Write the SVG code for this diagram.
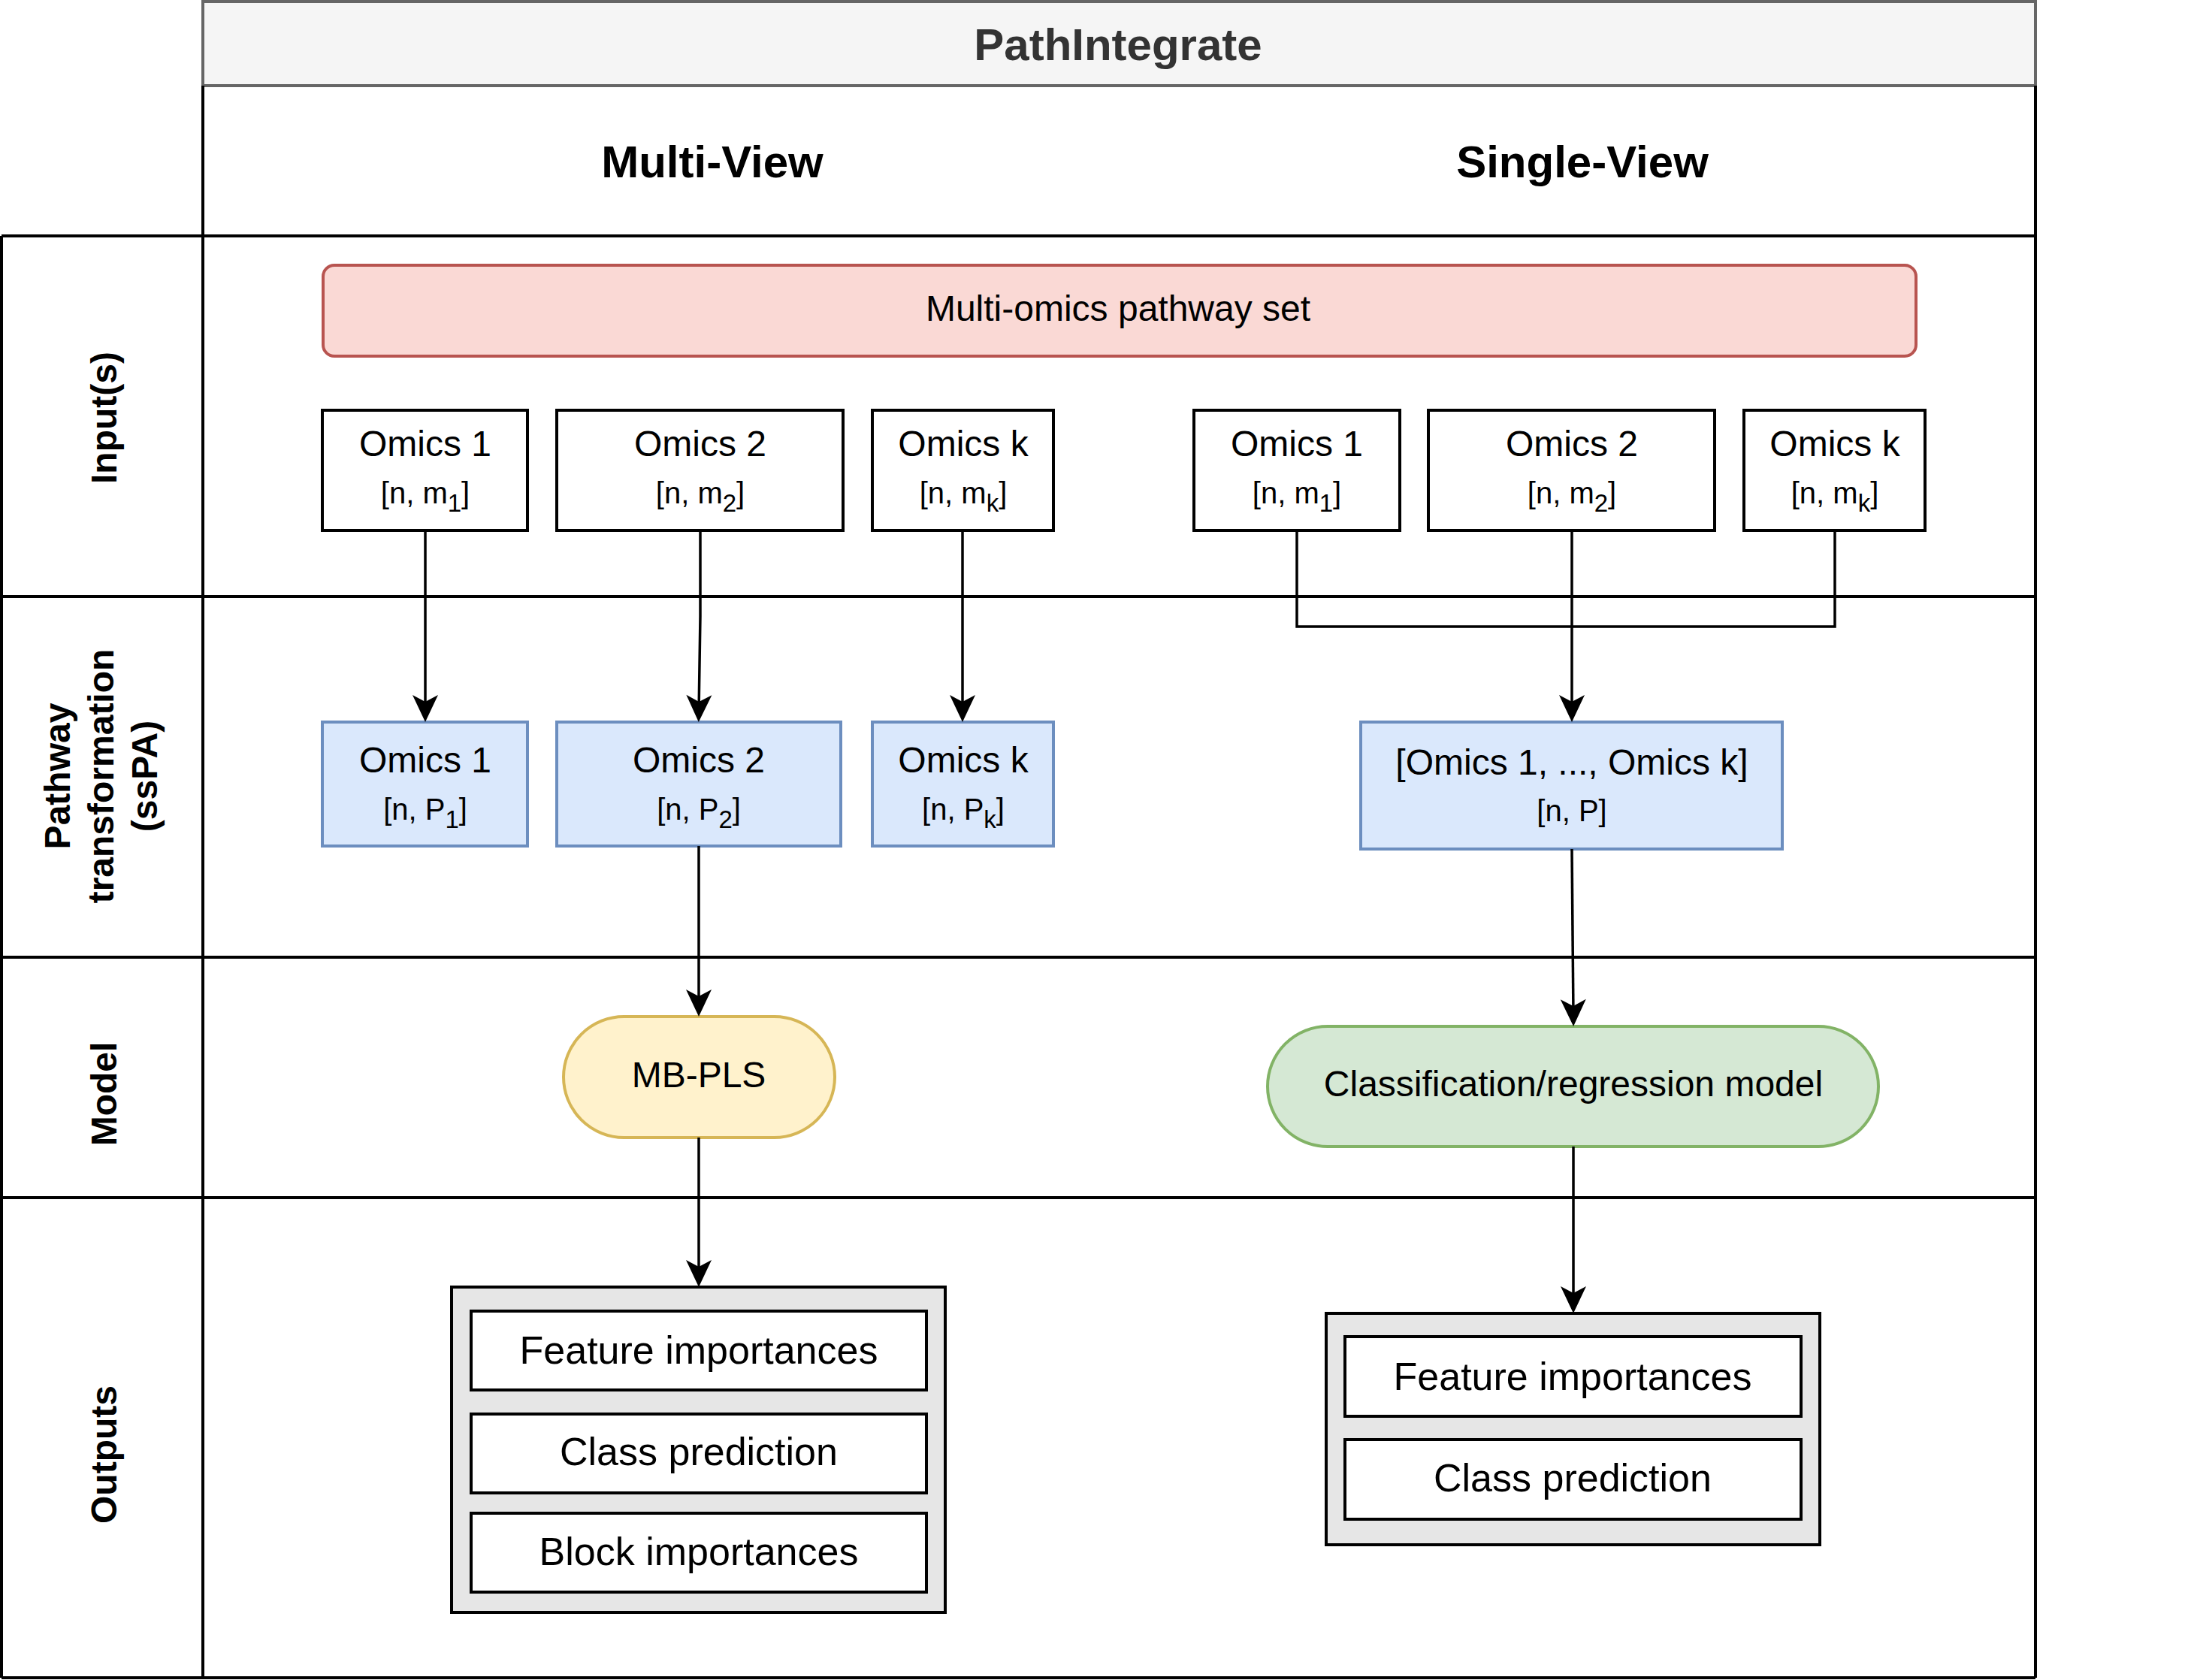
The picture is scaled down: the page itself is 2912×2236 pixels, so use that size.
<svg xmlns="http://www.w3.org/2000/svg" width="2912" height="2236" viewBox="0 0 2912 2236">
<style>
text{font-family:"Liberation Sans",Arial,sans-serif;fill:#000;text-anchor:middle}
.tbl{fill:none;stroke:#000;stroke-width:4}
.lbl{font-size:48px;font-weight:bold}
.hdr{font-size:60px;font-weight:bold}
.n{font-size:48px}
.s{font-size:40px}
.o{font-size:52px}
.box{fill:#fff;stroke:#000;stroke-width:4}
.blue{fill:#dae8fc;stroke:#6c8ebf;stroke-width:4}
.outer{fill:#e6e6e6;stroke:#000;stroke-width:4}
.edge{fill:none;stroke:#000;stroke-width:3.5}
</style>
<defs>
<marker id="arr" markerUnits="userSpaceOnUse" markerWidth="44" markerHeight="44" viewBox="-40 -22 44 44" refX="-12" refY="0" orient="auto">
<path d="M0,0 L-36,-17 L-27,0 L-36,17 Z" fill="#000"/>
</marker>
</defs>
<rect width="2912" height="2236" fill="#fff"/>
<g id="table">
<rect x="270" y="2" width="2439" height="112" fill="#f5f5f5" stroke="#666666" stroke-width="4"/>
<text x="1488" y="80" class="hdr" style="fill:#333333">PathIntegrate</text>
<path class="tbl" d="M270 114 V2233 M2709 114 V2233 M2 314 H2709 M2 794 H2709 M2 1274 H2709 M2 1594 H2709 M2 2233 H2709 M2 314 V2233"/>
<text x="948" y="236" class="hdr">Multi-View</text>
<text x="2106" y="236" class="hdr">Single-View</text>
<text class="lbl" transform="translate(155,556) rotate(-90)">Input(s)</text>
<text class="lbl" transform="translate(0,1033) rotate(-90)"><tspan x="0" y="93">Pathway</tspan><tspan x="0" y="151">transformation</tspan><tspan x="0" y="209">(ssPA)</tspan></text>
<text class="lbl" transform="translate(155,1456) rotate(-90)">Model</text>
<text class="lbl" transform="translate(155,1936) rotate(-90)">Outputs</text>
</g>
<g id="pathway-set">
<rect x="430" y="353" width="2120" height="121" rx="15" fill="#fad9d5" stroke="#b85450" stroke-width="4"/>
<text x="1488" y="427" class="n">Multi-omics pathway set</text>
</g>
<g id="mv-omics1">
<rect x="429" y="546" width="273" height="160" class="box"/>
<text x="566" y="607" class="n">Omics 1</text>
<text x="566" y="670" class="s">[n, m<tspan font-size="33" dy="11">1</tspan><tspan dy="-11">]</tspan></text>
</g>
<g id="mv-omics2">
<rect x="741" y="546" width="381" height="160" class="box"/>
<text x="932" y="607" class="n">Omics 2</text>
<text x="932" y="670" class="s">[n, m<tspan font-size="33" dy="11">2</tspan><tspan dy="-11">]</tspan></text>
</g>
<g id="mv-omicsk">
<rect x="1161" y="546" width="241" height="160" class="box"/>
<text x="1282" y="607" class="n">Omics k</text>
<text x="1282" y="670" class="s">[n, m<tspan font-size="33" dy="11">k</tspan><tspan dy="-11">]</tspan></text>
</g>
<g id="sv-omics1">
<rect x="1589" y="546" width="274" height="160" class="box"/>
<text x="1726" y="607" class="n">Omics 1</text>
<text x="1726" y="670" class="s">[n, m<tspan font-size="33" dy="11">1</tspan><tspan dy="-11">]</tspan></text>
</g>
<g id="sv-omics2">
<rect x="1901" y="546" width="381" height="160" class="box"/>
<text x="2092" y="607" class="n">Omics 2</text>
<text x="2092" y="670" class="s">[n, m<tspan font-size="33" dy="11">2</tspan><tspan dy="-11">]</tspan></text>
</g>
<g id="sv-omicsk">
<rect x="2321" y="546" width="241" height="160" class="box"/>
<text x="2442" y="607" class="n">Omics k</text>
<text x="2442" y="670" class="s">[n, m<tspan font-size="33" dy="11">k</tspan><tspan dy="-11">]</tspan></text>
</g>
<g id="mv-path1">
<rect x="429" y="961" width="273" height="165" class="blue"/>
<text x="566" y="1028" class="n">Omics 1</text>
<text x="566" y="1091" class="s">[n, P<tspan font-size="33" dy="11">1</tspan><tspan dy="-11">]</tspan></text>
</g>
<g id="mv-path2">
<rect x="741" y="961" width="378" height="165" class="blue"/>
<text x="930" y="1028" class="n">Omics 2</text>
<text x="930" y="1091" class="s">[n, P<tspan font-size="33" dy="11">2</tspan><tspan dy="-11">]</tspan></text>
</g>
<g id="mv-pathk">
<rect x="1161" y="961" width="241" height="165" class="blue"/>
<text x="1282" y="1028" class="n">Omics k</text>
<text x="1282" y="1091" class="s">[n, P<tspan font-size="33" dy="11">k</tspan><tspan dy="-11">]</tspan></text>
</g>
<g id="sv-path">
<rect x="1811" y="961" width="561" height="169" class="blue"/>
<text x="2092" y="1031" class="n">[Omics 1, ..., Omics k]</text>
<text x="2092" y="1093" class="s">[n, P]</text>
</g>
<g id="mbpls">
<rect x="750" y="1353" width="361" height="161" rx="80.5" fill="#fff2cc" stroke="#d6b656" stroke-width="4"/>
<text x="930" y="1447" class="n">MB-PLS</text>
</g>
<g id="classifier">
<rect x="1687" y="1366" width="813" height="160" rx="80" fill="#d5e8d4" stroke="#82b366" stroke-width="4"/>
<text x="2094" y="1459" class="n">Classification/regression model</text>
</g>
<g id="mv-outputs">
<rect x="601" y="1713" width="657" height="433" class="outer"/>
<rect x="627" y="1745" width="606" height="105" class="box"/>
<text x="930" y="1815" class="o">Feature importances</text>
<rect x="627" y="1882" width="606" height="105" class="box"/>
<text x="930" y="1950" class="o">Class prediction</text>
<rect x="627" y="2014" width="606" height="105" class="box"/>
<text x="930" y="2083" class="o">Block importances</text>
</g>
<g id="sv-outputs">
<rect x="1765" y="1748" width="657" height="308" class="outer"/>
<rect x="1790" y="1779" width="607" height="106" class="box"/>
<text x="2093" y="1850" class="o">Feature importances</text>
<rect x="1790" y="1916" width="607" height="106" class="box"/>
<text x="2093" y="1985" class="o">Class prediction</text>
</g>
<g id="connectors">
<path class="edge" marker-end="url(#arr)" d="M566 706 V949"/>
<path class="edge" marker-end="url(#arr)" d="M932 706 V820 L930 949"/>
<path class="edge" marker-end="url(#arr)" d="M1281 706 V949"/>
<path class="edge" marker-end="url(#arr)" d="M930 1126 V1341"/>
<path class="edge" marker-end="url(#arr)" d="M930 1514 V1701"/>
<path class="edge" d="M1726 706 V834 H2442 V706"/>
<path class="edge" marker-end="url(#arr)" d="M2092 706 V949"/>
<path class="edge" marker-end="url(#arr)" d="M2092 1130 L2094 1354"/>
<path class="edge" marker-end="url(#arr)" d="M2094 1526 V1736"/>
</g>
</svg>
